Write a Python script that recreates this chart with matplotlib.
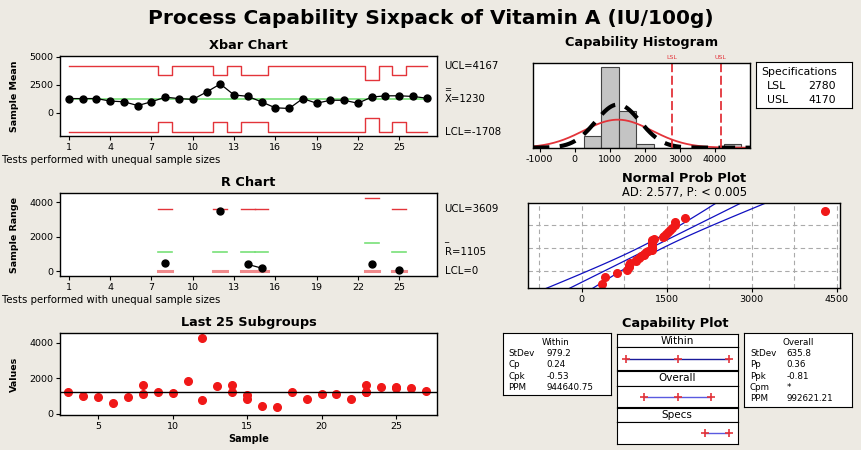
import numpy as np
import matplotlib
matplotlib.use('Agg')
import matplotlib.pyplot as plt
from statistics import NormalDist

W, H = 862, 450
BG = '#EDEAE3'
RED = '#E3343A'
GREEN = '#78E078'

# data
subgroups = list(range(1, 28))
values = [[1245], [1245], [1248], [1020], [960], [620], [960], [1600, 1140], [1245], [1170],
          [1830], [4300, 800], [1565], [1650, 1245], [1040, 850], [420], [360], [1245], [830], [1095],
          [1095], [830], [1650, 1248, 1240], [1490], [1460, 1530], [1435], [1280]]

grand_mean = 1230
sd_within = 979.2
sd_overall = 635.8
lsl, usl = 2780, 4170
ad_text = 'AD: 2.577, P: < 0.005'

within_stats = [('StDev', '979.2'), ('Cp', '0.24'), ('Cpk', '-0.53'), ('PPM', '944640.75')]
overall_stats = [('StDev', '635.8'), ('Pp', '0.36'), ('Ppk', '-0.81'), ('Cpm', '*'), ('PPM', '992621.21')]

d2 = {2: 1.128, 3: 1.693}
D4 = {2: 3.267, 3: 2.574}

n = [len(v) for v in values]
xbar = [np.mean(v) for v in values]
all_vals = np.array([x for v in values for x in v])
N = len(all_vals)

plt.rcParams['font.family'] = ['DejaVu Sans']
plt.rcParams['axes.unicode_minus'] = False
fig = plt.figure(figsize=(W / 100, H / 100), dpi=100)
fig.patch.set_facecolor(BG)

TSZ = 9.3   # panel titles
LSZ = 7.3   # side labels


def px_axes(x0, y0, x1, y1):
    return fig.add_axes([x0 / W, 1 - y1 / H, (x1 - x0) / W, (y1 - y0) / H])


def ftext(x, y, s, **kw):
    fig.text(x / W, 1 - y / H, s, **kw)


def style(ax):
    ax.tick_params(labelsize=6.8, length=3, width=0.8, pad=2)
    for s in ax.spines.values():
        s.set_linewidth(1)


ftext(431, 18, 'Process Capability Sixpack of Vitamin A (IU/100g)', fontsize=14.5,
      fontweight='bold', ha='center', va='center')

# ---------------- Xbar chart
ax = px_axes(60, 56, 437, 136)
style(ax)
ucl = [grand_mean + 3 * sd_within / np.sqrt(k) for k in n]
lcl = [grand_mean - 3 * sd_within / np.sqrt(k) for k in n]
ax.plot(subgroups, ucl, drawstyle='steps-mid', color=RED, lw=1)
ax.plot(subgroups, lcl, drawstyle='steps-mid', color=RED, lw=1)
ax.plot(subgroups, [grand_mean] * len(subgroups), color=GREEN, lw=1.2)
ax.plot(subgroups, xbar, 'o-', color='black', ms=5, lw=0.9)
ax.set_xlim(0.35, 27.75)
ax.set_ylim(-2100, 5050)
ax.set_xticks(range(1, 27, 3))
ax.set_yticks([0, 2500, 5000])
ax.set_ylabel('Sample Mean', fontsize=6.8, fontweight='bold', labelpad=7)
ax.set_title('Xbar Chart', fontsize=TSZ, fontweight='bold', pad=5)
yt = ax.get_yaxis_transform()
ax.text(1.02, ucl[0], 'UCL=4167', transform=yt, fontsize=LSZ, va='center')
ax.text(1.02, grand_mean, 'X=1230', transform=yt, fontsize=LSZ, va='center')
ax.annotate('=', xy=(1.02, grand_mean), xycoords=yt, xytext=(0, 6.5), textcoords='offset points',
            fontsize=6, va='center')
ax.text(1.02, lcl[0], 'LCL=-1708', transform=yt, fontsize=LSZ, va='center')
ftext(2, 160, 'Tests performed with unequal sample sizes', fontsize=7.3, va='center')

# ---------------- R chart
ax = px_axes(60, 193.3, 437, 275.7)
style(ax)
for i, k in zip(subgroups, n):
    if k > 1:
        rb = d2[k] * sd_within
        ax.plot([i - 0.5, i + 0.5], [D4[k] * rb] * 2, color=RED, lw=1)
        ax.plot([i - 0.5, i + 0.5], [rb] * 2, color=GREEN, lw=1.2)
        ax.plot([i - 0.5, i + 0.5], [0, 0], color='#F08A8C', lw=2.2)
rx, ry = [], []
for i, v in zip(subgroups, values):
    if len(v) > 1:
        if rx and i - rx[-1] > 1:
            ax.plot(rx, ry, 'o-', color='black', ms=5, lw=0.9)
            rx, ry = [], []
        rx.append(i)
        ry.append(max(v) - min(v))
ax.plot(rx, ry, 'o-', color='black', ms=5, lw=0.9)
ax.set_xlim(0.35, 27.75)
ax.set_ylim(-250, 4520)
ax.set_xticks(range(1, 27, 3))
ax.set_yticks([0, 2000, 4000])
ax.set_ylabel('Sample Range', fontsize=6.8, fontweight='bold', labelpad=7)
ax.set_title('R Chart', fontsize=TSZ, fontweight='bold', pad=5)
yt = ax.get_yaxis_transform()
rbar2 = d2[2] * sd_within
ax.text(1.02, D4[2] * rbar2, 'UCL=3609', transform=yt, fontsize=LSZ, va='center')
ax.text(1.02, rbar2, 'R=1105', transform=yt, fontsize=LSZ, va='center')
ax.annotate('_', xy=(1.02, rbar2), xycoords=yt, xytext=(0, 9.5), textcoords='offset points',
            fontsize=6, va='center')
ax.text(1.02, 0, 'LCL=0', transform=yt, fontsize=LSZ, va='center')
ftext(2, 300, 'Tests performed with unequal sample sizes', fontsize=7.3, va='center')

# ---------------- Last 25 subgroups
ax = px_axes(60, 333, 437, 415)
style(ax)
for i, v in zip(subgroups[2:], values[2:]):
    ax.plot([i] * len(v), v, 'o', color='#F01818', ms=5.5, mec='#F01818')
ax.axhline(grand_mean, color='black', lw=1)
ax.set_xlim(2.43, 27.76)
ax.set_ylim(-70, 4560)
ax.set_xticks([5, 10, 15, 20, 25])
ax.set_yticks([0, 2000, 4000])
ax.set_ylabel('Values', fontsize=6.8, fontweight='bold', labelpad=7)
ax.set_xlabel('Sample', fontsize=7, fontweight='bold', labelpad=2)
ax.set_title('Last 25 Subgroups', fontsize=TSZ, fontweight='bold', pad=5)

# ---------------- Capability histogram
ax = px_axes(532.7, 62.7, 750, 147.7)
style(ax)
edges = np.arange(-250, 5000, 500)
ax.hist(all_vals, bins=edges, color='#C4C4C4', edgecolor='#444444', lw=0.8)
xs = np.linspace(-1200, 5000, 400)
pdf_w = [NormalDist(grand_mean, sd_within).pdf(x) * N * 500 for x in xs]
pdf_o = [NormalDist(grand_mean, sd_overall).pdf(x) * N * 500 for x in xs]
ax.plot(xs, pdf_w, color=RED, lw=1.3)
ax.plot(xs, pdf_o, color='black', lw=3, ls=(0, (4, 2.5)))
ax.axvline(lsl, color=RED, lw=1.3, ls=(0, (5, 2)))
ax.axvline(usl, color=RED, lw=1.3, ls=(0, (5, 2)))
xt = ax.get_xaxis_transform()
ax.text(lsl, 1.03, 'LSL', transform=xt, fontsize=4.5, color=RED, ha='center', va='bottom')
ax.text(usl, 1.03, 'USL', transform=xt, fontsize=4.5, color=RED, ha='center', va='bottom')
ax.set_xlim(-1200, 5000)
ax.set_ylim(0, 21)
ax.set_yticks([])
ax.set_xticks([-1000, 0, 1000, 2000, 3000, 4000])
ax.set_title('Capability Histogram', fontsize=TSZ, fontweight='bold', pad=12)

bx = px_axes(756, 62.3, 851.7, 108.3)
bx.set_xticks([])
bx.set_yticks([])
ftext(761.7, 72.3, 'Specifications', fontsize=7.8, va='center')
ftext(766.7, 86, 'LSL', fontsize=7.8, va='center')
ftext(808, 86, str(lsl), fontsize=7.8, va='center')
ftext(766.7, 100, 'USL', fontsize=7.8, va='center')
ftext(808, 100, str(usl), fontsize=7.8, va='center')

# ---------------- Normal probability plot
ax = px_axes(528.3, 203.3, 840, 288.3)
style(ax)
srt = np.sort(all_vals)
z = [NormalDist().inv_cdf((i + 1 - 0.3) / (N + 0.4)) for i in range(N)]
zz = np.linspace(-2.6, 2.6, 100)
fit = grand_mean + zz * sd_overall
half = 1.96 * sd_overall * np.sqrt(1 / N + zz ** 2 / (2 * (N - 1)))
ax.plot(fit, zz, color='#1010C0', lw=0.9)
ax.plot(fit - half, zz, color='#1010C0', lw=0.9)
ax.plot(fit + half, zz, color='#1010C0', lw=0.9)
ax.plot(srt, z, 'o', color='#F01818', ms=5.5)
ax.set_xlim(-940, 4556)
ax.set_ylim(-2.27, 2.47)
ax.set_xticks([0, 1500, 3000, 4500])
ax.set_xticks(np.arange(-750, 4600, 750), minor=True)
ax.set_yticks([-1.2816, 0, 1.2816])
ax.tick_params(axis='y', length=0, labelleft=False)
ax.tick_params(axis='x', which='minor', length=0)
ax.grid(True, which='both', color='#AAAAAA', ls=(0, (4, 3)), lw=0.8)
ax.set_axisbelow(True)
ax.set_title('Normal Prob Plot', fontsize=TSZ, fontweight='bold', pad=15)
ax.text(0.5, 1.05, ad_text, transform=ax.transAxes, fontsize=8.3, ha='center', va='bottom')

# ---------------- Capability plot
ftext(675, 323.3, 'Capability Plot', fontsize=TSZ, fontweight='bold', ha='center', va='center')

lb = px_axes(502.7, 333.3, 611, 395)
lb.set_xticks([])
lb.set_yticks([])
ftext(556, 342.7, 'Within', fontsize=6.3, ha='center', va='center')
for j, (k, v) in enumerate(within_stats):
    ftext(508.3, 353.3 + j * 11.4, k, fontsize=6.3, va='center')
    ftext(546.7, 353.3 + j * 11.4, v, fontsize=6.3, va='center')

rb_ = px_axes(744.3, 333.3, 852.3, 406.7)
rb_.set_xticks([])
rb_.set_yticks([])
ftext(798, 342.7, 'Overall', fontsize=6.3, ha='center', va='center')
for j, (k, v) in enumerate(overall_stats):
    ftext(750, 353.3 + j * 11.4, k, fontsize=6.3, va='center')
    ftext(786.7, 353.3 + j * 11.4, v, fontsize=6.3, va='center')

panels = [('Within', 334, 347.3, 370, [grand_mean - 3 * sd_within, grand_mean, grand_mean + 3 * sd_within], '#1A1A9A'),
          ('Overall', 370.7, 385.7, 407.3, [grand_mean - 3 * sd_overall, grand_mean, grand_mean + 3 * sd_overall], '#5A5AE0'),
          ('Specs', 408, 422.3, 444.3, [lsl, usl], '#5A5AE0')]
for name, y0, y1, y2, pts, col in panels:
    hx = px_axes(616.7, y0, 737.7, y1)
    hx.set_xticks([])
    hx.set_yticks([])
    hx.text(0.5, 0.5, name, fontsize=7.5, ha='center', va='center', transform=hx.transAxes)
    lx = px_axes(616.7, y1, 737.7, y2)
    lx.set_xticks([])
    lx.set_yticks([])
    lx.plot([pts[0], pts[-1]], [0, 0], color=col, lw=1)
    lx.plot(pts, [0] * len(pts), '+', color=RED, ms=6, mew=1.2)
    lx.set_xlim(-2240, 4640)
    lx.set_ylim(-1, 1)

fig.savefig('out.png', dpi=100, facecolor=BG)
